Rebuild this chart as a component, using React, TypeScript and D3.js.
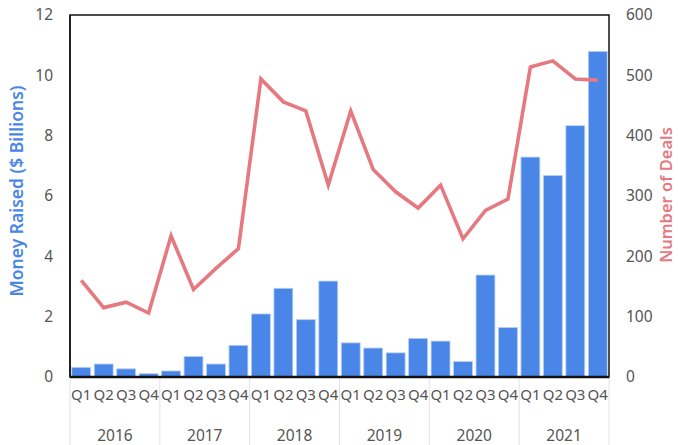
import React from "react";
import * as d3 from "d3";

const years = ["2016", "2017", "2018", "2019", "2020", "2021"];
const quarters = ["Q1", "Q2", "Q3", "Q4"];
const moneyRaised = [
  0.32, 0.43, 0.27, 0.11,
  0.2, 0.68, 0.43, 1.05,
  2.09, 2.94, 1.9, 3.18,
  1.13, 0.96, 0.8, 1.28,
  1.19, 0.51, 3.38, 1.64,
  7.29, 6.68, 8.33, 10.79,
];
const deals = [
  160, 115, 124, 106,
  234, 145, 180, 213,
  494, 456, 441, 318,
  441, 344, 307, 280,
  318, 229, 276, 295,
  514, 524, 494, 492,
];
const leftTicks = [0, 2, 4, 6, 8, 10, 12];
const rightTicks = [0, 100, 200, 300, 400, 500, 600];

const W = 678;
const H = 445;
const M = { left: 70, right: 609, top: 15, bottom: 377 };
const FONT = "'Noto Sans', 'Open Sans', sans-serif";
const BLUE = "#4a86e8";
const PINK = "#e6797f";

export default function App() {
  const cats = years.flatMap((y) => quarters.map((q) => `${y}-${q}`));
  const x = d3.scaleBand<string>().domain(cats).range([M.left, M.right]).paddingInner(0.16).paddingOuter(0.08);
  const xs = d3.scalePoint<string>().domain(cats).range([M.left, M.right]).padding(0.5);
  const yL = d3.scaleLinear().domain([0, 12]).range([M.bottom, M.top]);
  const yR = d3.scaleLinear().domain([0, 600]).range([M.bottom, M.top]);
  const step = (M.right - M.left) / cats.length;

  const line = d3
    .line<number>()
    .x((_, i) => xs(cats[i]) as number)
    .y((d) => yR(d));

  return (
    <svg width={W} height={H} style={{ position: "absolute", left: 0, top: 0, background: "#fff" }} fontFamily={FONT}>
      {/* year separators */}
      {d3.range(years.length + 1).map((i) => {
        const xx = M.left + i * 4 * step;
        return <line key={"sep" + i} x1={xx} x2={xx} y1={M.bottom} y2={H} stroke="#e2e2e2" strokeWidth={1} />;
      })}
      {/* bars */}
      {moneyRaised.map((v, i) => (
        <rect
          key={"b" + i}
          x={x(cats[i])}
          y={yL(v)}
          width={x.bandwidth()}
          height={yL(0) - yL(v)}
          fill={BLUE}
          stroke="#b5cdf5"
          strokeWidth={0.8}
        />
      ))}
      {/* line */}
      <path d={line(deals) || ""} fill="none" stroke={PINK} strokeWidth={3.6} strokeLinejoin="miter" />
      {/* frame */}
      <rect x={M.left} y={M.top} width={M.right - M.left} height={M.bottom - M.top} fill="none" stroke="#111" strokeWidth={1.5} />
      <line x1={M.left} x2={M.right} y1={M.bottom} y2={M.bottom} stroke="#111" strokeWidth={2.5} />
      <line x1={M.left} x2={M.left} y1={M.top} y2={M.bottom} stroke="#222" strokeWidth={2} />
      {/* left ticks */}
      {leftTicks.map((t) => (
        <text key={"l" + t} x={53} y={yL(t)} dy="0.35em" textAnchor="end" fontSize={15.5} fill="#555">
          {t}
        </text>
      ))}
      {/* right ticks */}
      {rightTicks.map((t) => (
        <text key={"r" + t} x={626} y={yR(t)} dy="0.35em" textAnchor="start" fontSize={15.5} fill="#555">
          {t}
        </text>
      ))}
      {/* quarter labels */}
      {cats.map((c, i) => (
        <text key={"q" + i} x={xs(c)} y={400} textAnchor="middle" fontSize={15} fill="#555">
          {quarters[i % 4]}
        </text>
      ))}
      {/* year labels */}
      {years.map((y, i) => (
        <text key={"y" + y} x={M.left + (i * 4 + 2) * step} y={441} textAnchor="middle" fontSize={15.5} fill="#555">
          {y}
        </text>
      ))}
      {/* axis titles */}
      <text
        transform={`translate(23,191) rotate(-90)`}
        textAnchor="middle"
        fontSize={17.5}
        fontWeight={600}
        fill={BLUE}
      >
        Money Raised ($ Billions)
      </text>
      <text
        transform={`translate(672,195) rotate(-90)`}
        textAnchor="middle"
        fontSize={16.5}
        fontWeight={600}
        fill={PINK}
      >
        Number of Deals
      </text>
    </svg>
  );
}
